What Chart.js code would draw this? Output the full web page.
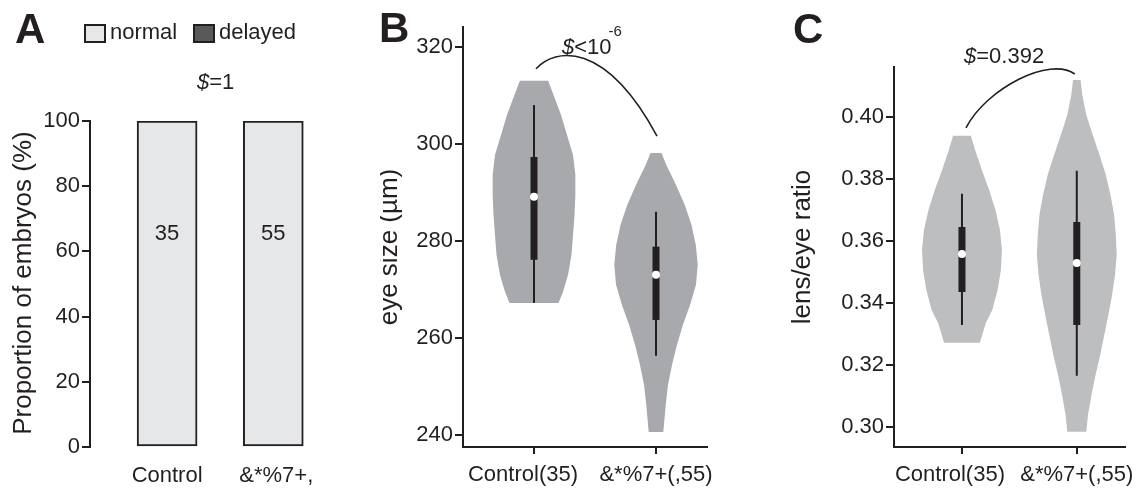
<!DOCTYPE html>
<html><head><meta charset="utf-8">
<script src="https://cdn.jsdelivr.net/npm/chart.js@4.4.1/dist/chart.umd.min.js"></script>
<style>
html,body{margin:0;padding:0;background:#fff;width:1143px;height:491px;overflow:hidden}
.p{position:absolute;top:0;height:491px}
#pa{left:0;width:380px}#pb{left:380px;width:380px}#pc{left:760px;width:383px}
</style></head><body>
<div class="p" id="pa"><canvas id="ca"></canvas></div>
<div class="p" id="pb"><canvas id="cb"></canvas></div>
<div class="p" id="pc"><canvas id="cc"></canvas></div>
<script>
// ---------------- data ----------------
// Panel A
const groupsA = ['Control', '&*%7+,'];
const normalPct = [100, 100];
const delayedPct = [0, 0];
const countsA = [35, 55];
const yTicksA = [0, 20, 40, 60, 80, 100];
const pValueA = '=1';

// Panels B and C share the group labels
const groupsBC = ['Control(35)', '&*%7+(,55)'];

// Panel B: eye size (µm) violin outlines (value levels and half-widths in x units)
const yTicksB = [240, 260, 280, 300, 320];
const eyeLevelsCtrl = [313.0, 310.1, 306.0, 301.9, 297.7, 293.6, 289.5, 285.4, 281.2, 277.1, 273.0, 269.5, 267.2];
const eyeWidthsCtrl = [0.116, 0.160, 0.221, 0.270, 0.320, 0.339, 0.339, 0.332, 0.320, 0.307, 0.279, 0.238, 0.201];
const eyeLevelsMut = [298.1, 295.7, 291.5, 287.4, 283.3, 279.2, 275.1, 271.0, 266.8, 262.7, 258.6, 254.4, 250.3, 246.2, 240.6];
const eyeWidthsMut = [0.045, 0.084, 0.164, 0.236, 0.291, 0.326, 0.342, 0.328, 0.279, 0.221, 0.172, 0.131, 0.098, 0.080, 0.060];
// box stats: [whisker low, q1, median, q3, whisker high]
const eyeStatsCtrl = [267.2, 276.1, 289.1, 297.3, 308.0];
const eyeStatsMut = [256.3, 263.7, 273.0, 278.8, 286.0];
const pValueB = '<10';
const pExpB = '-6';

// Panel C: lens/eye ratio
const yTicksC = [0.30, 0.32, 0.34, 0.36, 0.38, 0.40];
const ratioLevelsCtrl = [0.3939, 0.3894, 0.3829, 0.3765, 0.3700, 0.3635, 0.3571, 0.3506, 0.3442, 0.3377, 0.3335, 0.3271];
const ratioWidthsCtrl = [0.078, 0.114, 0.173, 0.236, 0.292, 0.331, 0.348, 0.339, 0.311, 0.264, 0.208, 0.156];
const ratioLevelsMut = [0.4119, 0.4071, 0.4006, 0.3942, 0.3877, 0.3813, 0.3748, 0.3684, 0.3619, 0.3555, 0.3490, 0.3426, 0.3361, 0.3297, 0.3232, 0.3168, 0.3103, 0.3039, 0.2984];
const ratioWidthsMut = [0.033, 0.048, 0.083, 0.139, 0.198, 0.253, 0.294, 0.325, 0.340, 0.348, 0.333, 0.308, 0.275, 0.240, 0.204, 0.164, 0.128, 0.098, 0.083];
const ratioStatsCtrl = [0.3329, 0.3435, 0.3558, 0.3645, 0.3752];
const ratioStatsMut = [0.3165, 0.3329, 0.3529, 0.3661, 0.3826];
const pValueC = '=0.392';

// ---------------- style ----------------
const INK = '#231f20';
const FONT = "'Liberation Sans', Arial, Helvetica, sans-serif";
Chart.defaults.font.family = FONT;
Chart.defaults.color = INK;
Chart.defaults.animation = false;

function yAxis(min, max, ticks, fmt, width) {
  return {
    type: 'linear', position: 'left', min, max,
    afterBuildTicks: s => { s.ticks = ticks.map(v => ({value: v})); },
    afterFit: s => { s.width = width; },
    ticks: {font: {size: 22}, color: INK, padding: 2, callback: v => fmt(v)},
    grid: {drawOnChartArea: false, drawTicks: true, tickLength: 8, color: INK, lineWidth: 2},
    border: {display: true, color: INK, width: 2}
  };
}
function xAxis(min, max, labels, height, showLine, padding) {
  return {
    type: 'linear', position: 'bottom', min, max, offset: false,
    afterBuildTicks: s => { s.ticks = labels.map((_, i) => ({value: i + 1})); },
    afterFit: s => { s.height = height; },
    ticks: {font: {size: 22}, color: INK, padding, maxRotation: 0, autoSkip: false,
            callback: v => labels[Math.round(v) - 1]},
    grid: {display: showLine, offset: false, drawOnChartArea: false, drawTicks: showLine, tickLength: 7, color: INK, lineWidth: 2},
    border: {display: showLine, color: INK, width: 2}
  };
}
// shift individual x tick labels horizontally (pixels)
function labelShift(shifts) {
  return {
    id: 'labelShift',
    beforeDraw(chart) {
      const xs = chart.scales.x;
      const items = xs.getLabelItems(chart.chartArea);
      if (items._shifted) return;
      items.forEach((it, i) => { it.options.translation[0] += (shifts[i] || 0); });
      items._shifted = true;
    }
  };
}

function txt(ctx, s, x, y, size, opts = {}) {
  ctx.save();
  ctx.font = (opts.style || '') + ' ' + (opts.weight || '') + ' ' + size + 'px ' + FONT;
  ctx.fillStyle = INK;
  ctx.textAlign = opts.align || 'left';
  ctx.textBaseline = opts.baseline || 'middle';
  if (opts.rot) { ctx.translate(x, y); ctx.rotate(opts.rot); ctx.fillText(s, 0, 0); }
  else ctx.fillText(s, x, y);
  const w = ctx.measureText(s).width;
  ctx.restore();
  return w;
}
function pText(ctx, rest, x, y, size) {
  let w = txt(ctx, '$', x, y, size, {style: 'italic'});
  w += txt(ctx, rest, x + w, y, size);
  return x + w;
}
function arc(ctx, p0, c1, c2, p3) {
  ctx.save();
  ctx.strokeStyle = INK; ctx.lineWidth = 1.6;
  ctx.beginPath(); ctx.moveTo(p0[0], p0[1]);
  ctx.bezierCurveTo(c1[0], c1[1], c2[0], c2[1], p3[0], p3[1]);
  ctx.stroke(); ctx.restore();
}

// ---------------- Panel A ----------------
const annotA = {
  id: 'annotA',
  afterDraw(chart) {
    const ctx = chart.ctx, xs = chart.scales.x, ys = chart.scales.y;
    txt(ctx, 'A', 15, 43, 42, {weight: 'bold', baseline: 'alphabetic'});
    // legend
    const lx = [85, 194];
    chart.data.datasets.forEach((ds, i) => {
      ctx.save();
      ctx.fillStyle = ds.backgroundColor; ctx.strokeStyle = INK; ctx.lineWidth = 2;
      ctx.fillRect(lx[i], 25, 20, 17); ctx.strokeRect(lx[i], 25, 20, 17);
      ctx.restore();
      txt(ctx, ds.label, lx[i] + 25, 33, 22);
    });
    pText(ctx, pValueA, 197, 83, 22);
    countsA.forEach((n, i) => {
      txt(ctx, String(n), xs.getPixelForValue(i + 1), ys.getPixelForValue(65.5), 22, {align: 'center'});
    });
    txt(ctx, 'Proportion of embryos (%)', 24, 283, 26, {align: 'center', rot: -Math.PI / 2});
  }
};
new Chart(document.getElementById('ca'), {
  type: 'bar',
  data: {datasets: [
    {label: 'normal', data: normalPct.map((v, i) => ({x: i + 1, y: v})), backgroundColor: '#e6e7e8',
     borderColor: INK, borderWidth: 2, borderSkipped: false, barThickness: 60},
    {label: 'delayed', data: delayedPct.map((v, i) => ({x: i + 1, y: v})), backgroundColor: '#58595b',
     borderColor: INK, borderWidth: 0, barThickness: 60}
  ]},
  options: {
    responsive: true, maintainAspectRatio: false,
    layout: {padding: {left: 0, right: 43, top: 121, bottom: 0}},
    scales: {
      x: Object.assign(xAxis(0.274, 2.6, groupsA, 44, false, 16), {stacked: true}),
      y: Object.assign(yAxis(0, 100, yTicksA, v => String(v), 90), {stacked: true})
    },
    plugins: {legend: {display: false}, tooltip: {enabled: false}}
  },
  plugins: [annotA, labelShift([0, 3])]
});

// ---------------- violin helpers ----------------
function violin(levels, widths, pos, color) {
  const pts = [];
  for (let i = 0; i < levels.length; i++) pts.push({x: pos + widths[i], y: levels[i]});
  for (let i = levels.length - 1; i >= 0; i--) pts.push({x: pos - widths[i], y: levels[i]});
  return {data: pts, fill: 'shape', backgroundColor: color, borderWidth: 0, borderColor: 'rgba(0,0,0,0)',
          pointRadius: 0, tension: 0, order: 3};
}
function boxPlot(stats, pos) {
  return [
    {data: [{x: pos, y: stats[0]}, {x: pos, y: stats[4]}], borderColor: INK, borderWidth: 2, pointRadius: 0, fill: false, order: 2},
    {data: [{x: pos, y: stats[1]}, {x: pos, y: stats[3]}], borderColor: INK, borderWidth: 7, pointRadius: 0, fill: false, order: 1},
    {data: [{x: pos, y: stats[2]}], showLine: false, pointRadius: 4, pointBackgroundColor: '#ffffff',
     pointBorderWidth: 0, pointBorderColor: '#ffffff', fill: false, order: 0}
  ];
}

// ---------------- Panel B ----------------
const annotB = {
  id: 'annotB',
  afterDraw(chart) {
    const ctx = chart.ctx, xs = chart.scales.x, ys = chart.scales.y;
    txt(ctx, 'B', -1, 42, 42, {weight: 'bold', baseline: 'alphabetic'});
    txt(ctx, 'eye size (\u00b5m)', 10, 247, 26, {align: 'center', rot: -Math.PI / 2});
    const p0 = [xs.getPixelForValue(1) + 2, ys.getPixelForValue(eyeLevelsCtrl[0]) - 12];
    const p3 = [xs.getPixelForValue(2) + 1, ys.getPixelForValue(eyeLevelsMut[0]) - 17];
    arc(ctx, p0, [p0[0] + 19, p0[1] - 21], [p3[0] - 52, p3[1] - 96], p3);
    const end = pText(ctx, pValueB, 182, 48, 22);
    txt(ctx, pExpB, end - 3, 32, 15);
  }
};
new Chart(document.getElementById('cb'), {
  type: 'line',
  data: {datasets: [
    violin(eyeLevelsCtrl, eyeWidthsCtrl, 1, '#a7a9ac'),
    violin(eyeLevelsMut, eyeWidthsMut, 2, '#a7a9ac'),
    ...boxPlot(eyeStatsCtrl, 1), ...boxPlot(eyeStatsMut, 2)
  ]},
  options: {
    responsive: true, maintainAspectRatio: false,
    layout: {padding: {left: 0, right: 53, top: 27, bottom: 0}},
    scales: {
      x: xAxis(0.418, 2.418, groupsBC, 44, true, 8),
      y: yAxis(237.5, 324.1, yTicksB, v => String(v), 83)
    },
    plugins: {legend: {display: false}, tooltip: {enabled: false}}
  },
  plugins: [annotB, labelShift([-11, 0])]
});

// ---------------- Panel C ----------------
const annotC = {
  id: 'annotC',
  afterDraw(chart) {
    const ctx = chart.ctx, xs = chart.scales.x, ys = chart.scales.y;
    txt(ctx, 'C', 33, 43, 42, {weight: 'bold', baseline: 'alphabetic'});
    txt(ctx, 'lens/eye ratio', 43, 247, 26, {align: 'center', rot: -Math.PI / 2});
    const p0 = [xs.getPixelForValue(1) + 4, ys.getPixelForValue(ratioLevelsCtrl[0]) - 8];
    const p3 = [xs.getPixelForValue(2) - 2, ys.getPixelForValue(ratioLevelsMut[0]) - 6];
    arc(ctx, p0, [p0[0] + 21, p0[1] - 40], [p3[0] - 25, p3[1] - 18], p3);
    pText(ctx, pValueC, 204, 57, 22);
  }
};
new Chart(document.getElementById('cc'), {
  type: 'line',
  data: {datasets: [
    violin(ratioLevelsCtrl, ratioWidthsCtrl, 1, '#bcbec0'),
    violin(ratioLevelsMut, ratioWidthsMut, 2, '#bcbec0'),
    ...boxPlot(ratioStatsCtrl, 1), ...boxPlot(ratioStatsMut, 2)
  ]},
  options: {
    responsive: true, maintainAspectRatio: false,
    layout: {padding: {left: 0, right: 8, top: 67, bottom: 0}},
    scales: {
      x: xAxis(0.408, 2.417, groupsBC, 44, true, 8),
      y: yAxis(0.2935, 0.4161, yTicksC, v => v.toFixed(2), 134)
    },
    plugins: {legend: {display: false}, tooltip: {enabled: false}}
  },
  plugins: [annotC, labelShift([-12, 0])]
});
</script>
</body></html>
